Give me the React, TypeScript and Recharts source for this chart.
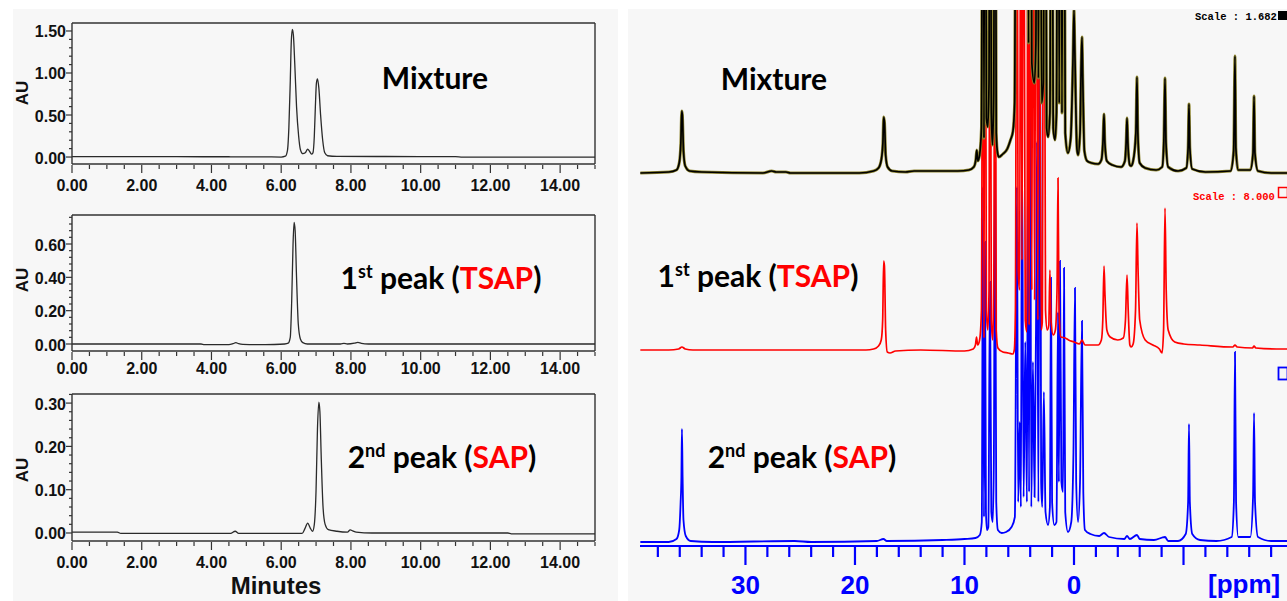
import { LineChart, Line, XAxis, YAxis, ReferenceLine } from 'recharts';

// ---- HPLC chromatograms: [time (min), absorbance (AU)] ----
const mixtureTrace: [number, number][] = [
  [0, 0.005], [1.5, 0.005], [3, 0.004], [4.5, 0.003], [5.5, 0.002], [6.0, 0.0], [6.12, 0.01],
  [6.18, 0.08], [6.22, 0.35], [6.26, 0.9], [6.29, 1.38], [6.32, 1.52], [6.35, 1.45], [6.39, 1.1],
  [6.44, 0.6], [6.5, 0.25], [6.55, 0.09], [6.62, 0.04], [6.69, 0.05], [6.76, 0.095], [6.81, 0.07],
  [6.87, 0.035], [6.91, 0.05], [6.95, 0.25], [6.98, 0.6], [7.01, 0.88], [7.04, 0.93], [7.08, 0.82],
  [7.13, 0.5], [7.19, 0.2], [7.25, 0.05], [7.33, 0.015], [7.6, 0.008], [9, 0.006], [11, 0.005],
  [11.2, 0.0], [15, 0.0],
];
const tsapTrace: [number, number][] = [
  [0, 0.0], [2, 0.0], [3.7, 0.0], [3.8, -0.004], [4.5, -0.004], [4.62, 0.002], [4.7, 0.008],
  [4.78, 0.002], [4.9, -0.002], [5.3, -0.004], [5.8, -0.003], [6.1, 0.0], [6.2, 0.005], [6.26, 0.04],
  [6.3, 0.25], [6.34, 0.6], [6.37, 0.73], [6.4, 0.68], [6.44, 0.4], [6.49, 0.12], [6.55, 0.03],
  [6.62, 0.008], [6.75, 0.0], [7.7, 0.0], [7.8, 0.004], [7.9, 0.0], [8.1, 0.005], [8.2, 0.01],
  [8.3, 0.004], [8.5, 0.0], [15, 0.0],
];
const sapTrace: [number, number][] = [
  [0, 0.002], [1.3, 0.002], [1.4, -0.001], [4.55, -0.001], [4.68, 0.004], [4.78, -0.001],
  [6.6, -0.001], [6.68, 0.01], [6.76, 0.023], [6.83, 0.012], [6.9, 0.004], [6.95, 0.02], [7.0, 0.1],
  [7.04, 0.24], [7.08, 0.302], [7.11, 0.28], [7.15, 0.17], [7.2, 0.06], [7.26, 0.02], [7.35, 0.008],
  [7.6, 0.004], [7.9, 0.002], [7.98, 0.007], [8.05, 0.005], [8.15, 0.002], [8.6, 0.0], [12.5, 0.0],
  [12.6, -0.002], [15, -0.002],
];

// ---- 1H NMR spectra: [shift (ppm), displayed intensity above its own baseline] ----
const OFF = 600; // lines that run off the top of the plot
const mixtureNmr: [number, number][] = [
  [39.6, 0], [37.0, 1], [36.3, 3], [36.05, 10], [35.9, 30], [35.82, 62], [35.76, 58], [35.66, 22],
  [35.5, 7], [35.1, 2], [34.0, 1], [28.4, 0], [27.6, 2], [27.2, 1], [26.3, 1], [25.9, 0], [19.6, 0],
  [18.3, 2], [17.85, 5], [17.6, 13], [17.45, 30], [17.38, 56], [17.3, 50], [17.2, 18], [17.02, 6],
  [16.6, 2], [15.4, 1], [14.6, 2], [13.9, 2], [12.4, 2], [10.6, 2], [9.6, 3], [9.15, 6], [8.97, 13],
  [8.88, 23], [8.78, 12], [8.62, 18], [8.45, 45], [8.31, OFF], [8.22, 35], [8.13, OFF], [8.0, 55],
  [7.87, 46], [7.76, 90], [7.67, OFF], [7.55, 60], [7.44, 28], [7.33, 80], [7.21, OFF], [7.1, 40],
  [6.98, 20], [6.85, 16], [6.5, 19], [6.1, 24], [5.8, 33], [5.57, 42], [5.42, 70], [5.27, OFF],
  [4.3, OFF], [4.15, 130], [4.02, OFF], [3.85, 110], [3.62, 90], [3.48, 130], [3.38, OFF], [3.25, 95],
  [3.11, OFF], [2.96, 70], [2.8, 90], [2.65, OFF], [2.5, 45], [2.37, 36], [2.2, 60], [2.05, OFF],
  [1.9, 45], [1.74, 33], [1.6, 60], [1.46, OFF], [1.35, 70], [1.22, OFF], [1.1, 60], [0.95, OFF],
  [0.8, 40], [0.55, 20], [0.3, 35], [0.1, 110], [0.0, 163], [-0.08, 120], [-0.27, 24], [-0.37, 18],
  [-0.55, 40], [-0.66, 110], [-0.73, 136], [-0.8, 95], [-0.95, 22], [-1.2, 12], [-1.6, 10], [-2.2, 9],
  [-2.5, 13], [-2.64, 30], [-2.74, 59], [-2.82, 30], [-3.0, 12], [-3.5, 8], [-4.3, 6], [-4.65, 12],
  [-4.76, 30], [-4.84, 55], [-4.92, 30], [-5.1, 8], [-5.21, 7], [-5.4, 12], [-5.65, 40], [-5.75, 96],
  [-5.83, 40], [-6.0, 10], [-6.5, 5], [-7.5, 3], [-8.05, 6], [-8.2, 30], [-8.31, 95], [-8.4, 30],
  [-8.6, 6], [-9.5, 2], [-10.25, 5], [-10.42, 25], [-10.5, 69], [-10.58, 25], [-10.8, 4], [-12.0, 1],
  [-14.3, 2], [-14.58, 22], [-14.7, 117], [-14.78, 25], [-15.0, 3], [-16.1, 3], [-16.35, 20],
  [-16.44, 77], [-16.52, 20], [-16.8, 2], [-18.0, 0], [-19.45, 0],
];
const tsapNmr: [number, number][] = [
  [39.6, 0], [37.0, 0], [36.1, 1], [35.8, 3], [35.5, 1], [34.8, 0], [19.0, 0], [18.3, 1], [17.85, 4],
  [17.6, 10], [17.47, 30], [17.38, 89], [17.31, 84], [17.2, 20], [17.05, -2], [16.8, -3], [16.3, -1],
  [14.0, 0], [10.0, -1], [9.2, 1], [9.0, 5], [8.9, 13], [8.8, 5], [8.62, 10], [8.45, 40], [8.31, OFF],
  [8.22, 12], [8.13, OFF], [8.0, 40], [7.87, 20], [7.76, 60], [7.67, OFF], [7.55, 30], [7.42, 10],
  [7.32, 70], [7.21, OFF], [7.1, 20], [6.95, 2], [6.5, -2], [6.0, -3], [5.6, -4], [5.45, 0], [5.35, 40],
  [5.21, OFF], [5.1, 80], [4.97, 60], [4.85, OFF], [4.75, 90], [4.6, OFF], [4.45, 30], [4.3, 18],
  [4.2, OFF], [4.1, 25], [3.95, OFF], [3.85, 60], [3.75, OFF], [3.6, 50], [3.45, OFF], [3.3, 30],
  [3.2, OFF], [3.0, 20], [2.9, 27], [2.75, OFF], [2.6, 40], [2.45, 20], [2.3, 25], [2.2, 80], [2.1, 30],
  [1.9, 15], [1.7, 20], [1.55, 60], [1.46, 172], [1.37, 40], [1.2, 13], [0.8, 12], [0.5, 10], [0.0, 8],
  [-0.5, 6], [-0.73, 10], [-1.0, 5], [-1.5, 5], [-2.2, 5], [-2.5, 10], [-2.63, 30], [-2.74, 84],
  [-2.83, 55], [-3.0, 20], [-3.3, 13], [-4.0, 10], [-4.5, 12], [-4.7, 30], [-4.84, 75], [-4.95, 40],
  [-5.1, 5], [-5.21, 3], [-5.4, 6], [-5.62, 40], [-5.75, 127], [-5.85, 80], [-6.0, 30], [-6.5, 10],
  [-7.2, 5], [-7.8, 1], [-8.04, -3], [-8.18, 20], [-8.31, 142], [-8.42, 60], [-8.6, 20], [-9.2, 8],
  [-10.0, 6], [-11.5, 5], [-14.5, 3], [-14.7, 5], [-14.9, 3], [-16.3, 2], [-16.44, 4], [-16.6, 2],
  [-18.5, 1], [-19.45, 1],
];
const sapNmr: [number, number][] = [
  [39.6, 0], [37.0, 0], [36.3, 3], [36.05, 12], [35.92, 40], [35.85, 65], [35.8, 113], [35.74, 65],
  [35.66, 22], [35.45, 6], [35.0, 1], [33.0, 0], [25.5, 1], [24.0, 0], [18.0, 1], [17.4, 3], [17.1, 1],
  [12.0, 2], [10.0, 3], [9.0, 4], [8.6, 7], [8.42, 20], [8.31, 355], [8.22, 25], [8.13, 300], [8.04, 30],
  [7.95, 12], [7.82, 15], [7.67, 260], [7.55, 30], [7.42, 20], [7.32, 80], [7.21, 379], [7.1, 40],
  [6.95, 12], [6.6, 9], [6.2, 10], [5.7, 15], [5.4, 25], [5.21, 355], [5.1, 40], [4.95, 120], [4.85, 35],
  [4.75, 400], [4.6, 45], [4.45, 200], [4.3, 40], [4.2, 400], [4.1, 50], [4.02, OFF], [3.9, 35],
  [3.75, 180], [3.6, 45], [3.45, 250], [3.38, 400], [3.25, 40], [3.11, OFF], [3.0, 60], [2.9, 35],
  [2.75, 150], [2.6, 30], [2.37, 17], [2.2, 35], [2.1, 264], [2.0, 40], [1.8, 17], [1.6, 20],
  [1.46, 230], [1.38, 60], [1.28, 281], [1.15, 60], [1.0, 50], [0.91, 274], [0.8, 30], [0.55, 10],
  [0.25, 20], [0.05, 90], [-0.09, 254], [-0.2, 60], [-0.37, 20], [-0.55, 60], [-0.73, 221], [-0.85, 50],
  [-1.0, 12], [-1.5, 8], [-2.3, 6], [-2.74, 9], [-3.2, 5], [-4.6, 3], [-4.84, 6], [-5.1, 3], [-5.75, 7],
  [-6.0, 3], [-7.3, 2], [-8.31, 5], [-8.6, 1], [-9.5, 1], [-10.2, 8], [-10.42, 40], [-10.5, 118],
  [-10.58, 40], [-10.8, 8], [-11.5, 2], [-13.0, 1], [-14.4, 5], [-14.6, 40], [-14.7, 190], [-14.8, 40],
  [-15.0, 5], [-16.1, 5], [-16.35, 45], [-16.44, 129], [-16.53, 40], [-16.8, 5], [-18.0, 1], [-19.45, 1],
];

// ---- ticks ----
function steps(from: number, to: number, step: number) {
  const out: number[] = [];
  for (let i = 0; from + i * step <= to + 1e-9; i++) out.push(Math.round((from + i * step) * 1000) / 1000);
  return out;
}
const isMultiple = (v: number, m: number) => Math.abs(v / m - Math.round(v / m)) < 1e-6;

const timeTicks = steps(0, 15, 0.5);
const mixtureAuTicks = steps(0, 1.5, 0.1);
const tsapAuTicks = steps(0, 0.76, 0.04);
const sapAuTicks = steps(0, 0.32, 0.02);
const ppmTicks = steps(-18, 38, 2);
const ppmLabels = [30, 20, 10, 0];

const FRAME = '#333';
const BLUE = '#0000ff';
const RED = '#ff0000';
const AXIS_FONT = 'Arial, "Liberation Sans", sans-serif';
const TITLE_FONT = 'Lato, "Open Sans", sans-serif';

function Chromatogram({ data, top, marginTop, marginBottom, yDomain, yTicks, yMajor, labelDy }: any) {
  const rows = data.map(([t, au]: [number, number]) => ({ t, au }));
  return (
    <div style={{ position: 'absolute', left: 0, top }}>
      <LineChart width={620} height={200} data={rows}
        margin={{ top: marginTop, right: 25, bottom: marginBottom, left: 0 }}>
        <XAxis type="number" dataKey="t" domain={[0, 15]} ticks={timeTicks} interval={0} allowDataOverflow
          height={36} tickSize={0} tickMargin={0} tickLine={false}
          axisLine={{ stroke: FRAME, strokeWidth: 1.4 }}
          tick={(p: any) => {
            const v = p.payload.value;
            const major = isMultiple(v, 2);
            return (
              <g>
                <line x1={p.x} x2={p.x} y1={p.y + 1} y2={p.y + (major ? 9 : 5)} stroke={FRAME} strokeWidth={1.2} />
                {major && (
                  <text x={p.x} y={p.y + labelDy} textAnchor="middle" dominantBaseline="central"
                    style={{ fontFamily: AXIS_FONT, fontWeight: 700, fontSize: 16, fill: '#111' }}>
                    {v.toFixed(2)}
                  </text>
                )}
              </g>
            );
          }} />
        <YAxis type="number" domain={yDomain} ticks={yTicks} interval={0} allowDataOverflow width={72}
          tickSize={0} tickMargin={0} tickLine={false}
          axisLine={{ stroke: FRAME, strokeWidth: 1.4 }}
          tick={(p: any) => {
            const v = p.payload.value;
            const major = isMultiple(v, yMajor);
            return (
              <g>
                <line x1={p.x - (major ? 6 : 3)} x2={p.x} y1={p.y} y2={p.y} stroke={FRAME} strokeWidth={1.2} />
                {major && (
                  <text x={p.x - 6} y={p.y + 1} textAnchor="end" dominantBaseline="central"
                    style={{ fontFamily: AXIS_FONT, fontWeight: 700, fontSize: 16, fill: '#111' }}>
                    {v.toFixed(2)}
                  </text>
                )}
              </g>
            );
          }} />
        <ReferenceLine y={yDomain[1]} stroke={FRAME} strokeWidth={1.4} />
        <ReferenceLine x={15} stroke={FRAME} strokeWidth={1.4} />
        <Line type="monotone" dataKey="au" stroke="#2a2a2a" strokeWidth={1.3} dot={false} isAnimationActive={false} />
      </LineChart>
    </div>
  );
}

const toRows = (pts: [number, number][]) => pts.map(([ppm, h]) => ({ ppm, h }));

function NmrStack() {
  return (
    <div style={{ position: 'absolute', left: 640, top: 0 }}>
      <LineChart width={647} height={601} margin={{ top: 10, right: 0, bottom: 0, left: 0 }}>
        <XAxis type="number" dataKey="ppm" domain={[-19.45, 39.63]} reversed allowDataOverflow
          ticks={ppmTicks} interval={0} height={55} tickSize={0} tickMargin={0} tickLine={false}
          axisLine={{ stroke: BLUE, strokeWidth: 2.2 }}
          tick={(p: any) => {
            const v = p.payload.value;
            const major = isMultiple(v, 10);
            return (
              <g>
                <line x1={p.x} x2={p.x} y1={p.y} y2={p.y + (major ? 19 : 11)} stroke={BLUE} strokeWidth={2.2} />
                {ppmLabels.includes(v) && (
                  <text x={p.x} y={p.y + 48} textAnchor="middle"
                    style={{ fontFamily: AXIS_FONT, fontWeight: 700, fontSize: 26, fill: BLUE }}>
                    {String(Math.abs(v))}
                  </text>
                )}
              </g>
            );
          }} />
        <YAxis yAxisId="sap" hide type="number" domain={[-4, 532]} allowDataOverflow />
        <YAxis yAxisId="tsap" hide type="number" domain={[-196, 340]} allowDataOverflow />
        <YAxis yAxisId="mix" hide type="number" domain={[-373, 163]} allowDataOverflow />
        <Line yAxisId="sap" data={toRows(sapNmr)} dataKey="h" type="monotone" stroke={BLUE}
          strokeWidth={1.8} dot={false} isAnimationActive={false} />
        <Line yAxisId="tsap" data={toRows(tsapNmr)} dataKey="h" type="monotone" stroke={RED}
          strokeWidth={1.7} dot={false} isAnimationActive={false} />
        <Line yAxisId="mix" data={toRows(mixtureNmr)} dataKey="h" type="monotone" stroke="#8f8630"
          strokeWidth={3} dot={false} isAnimationActive={false} />
        <Line yAxisId="mix" data={toRows(mixtureNmr)} dataKey="h" type="monotone" stroke="#000"
          strokeWidth={1.7} dot={false} isAnimationActive={false} />
      </LineChart>
    </div>
  );
}

function SampleLabel({ x, y, kind }: { x: number; y: number; kind: 'mix' | 'first' | 'second' }) {
  const style = { fontFamily: TITLE_FONT, fontWeight: 700, fontSize: 30, fill: '#000' };
  if (kind === 'mix') return <text x={x} y={y} textAnchor="middle" style={style}>Mixture</text>;
  const [num, sup, name] = kind === 'first' ? ['1', 'st', 'TSAP'] : ['2', 'nd', 'SAP'];
  return (
    <text x={x} y={y} textAnchor="middle" style={style}>
      <tspan>{num}</tspan>
      <tspan dy={-11} fontSize={18}>{sup}</tspan>
      <tspan dy={11}>{' peak ('}</tspan>
      <tspan fill={RED}>{name}</tspan>
      <tspan>)</tspan>
    </text>
  );
}

export default function App() {
  const auStyle = { fontFamily: AXIS_FONT, fontWeight: 700, fontSize: 17, fill: '#111' };
  const monoStyle = { fontFamily: '"Liberation Mono", "DejaVu Sans Mono", monospace', fontWeight: 700, fontSize: 10.5 };
  return (
    <div style={{ position: 'absolute', left: 0, top: 0, width: 1287, height: 601, background: '#fff', overflow: 'hidden' }}>
      <div style={{ position: 'absolute', left: 13, top: 9, width: 605, height: 592, background: '#f7f7f7' }} />
      <div style={{ position: 'absolute', left: 628, top: 9, width: 659, height: 592, background: '#f7f7f7' }} />

      <Chromatogram data={mixtureTrace} top={0} marginTop={23} marginBottom={0}
        yDomain={[-0.083, 1.595]} yTicks={mixtureAuTicks} yMajor={0.5} labelDy={21} />
      <Chromatogram data={tsapTrace} top={190} marginTop={25} marginBottom={3}
        yDomain={[-0.042, 0.774]} yTicks={tsapAuTicks} yMajor={0.2} labelDy={17} />
      <Chromatogram data={sapTrace} top={380} marginTop={14} marginBottom={3}
        yDomain={[-0.0185, 0.321]} yTicks={sapAuTicks} yMajor={0.1} labelDy={21} />

      <NmrStack />

      <svg width={1287} height={601} style={{ position: 'absolute', left: 0, top: 0, pointerEvents: 'none' }}>
        <text transform="translate(28,93) rotate(-90)" textAnchor="middle" style={auStyle}>AU</text>
        <text transform="translate(28,280) rotate(-90)" textAnchor="middle" style={auStyle}>AU</text>
        <text transform="translate(28,470) rotate(-90)" textAnchor="middle" style={auStyle}>AU</text>
        <text x={276} y={594} textAnchor="middle" style={{ fontFamily: AXIS_FONT, fontWeight: 700, fontSize: 24, fill: '#111' }}>Minutes</text>

        <SampleLabel x={435} y={89} kind="mix" />
        <SampleLabel x={441} y={289} kind="first" />
        <SampleLabel x={442} y={468} kind="second" />
        <SampleLabel x={774} y={90} kind="mix" />
        <SampleLabel x={758} y={287} kind="first" />
        <SampleLabel x={802} y={468} kind="second" />

        <text x={1208} y={593} style={{ fontFamily: AXIS_FONT, fontWeight: 700, fontSize: 26, fill: BLUE }}>[ppm]</text>

        <text x={1195} y={20} style={{ ...monoStyle, fill: '#000' }}>Scale : 1.682</text>
        <rect x={1278} y={11} width={9} height={9} fill="#000" />
        <text x={1193} y={200} style={{ ...monoStyle, fill: RED }}>Scale : 8.000</text>
        <rect x={1278.5} y={187.5} width={9} height={10} fill="none" stroke={RED} strokeWidth={1.5} />
        <rect x={1278.5} y={367.5} width={9} height={12} fill="none" stroke={BLUE} strokeWidth={1.8} />
      </svg>
    </div>
  );
}
